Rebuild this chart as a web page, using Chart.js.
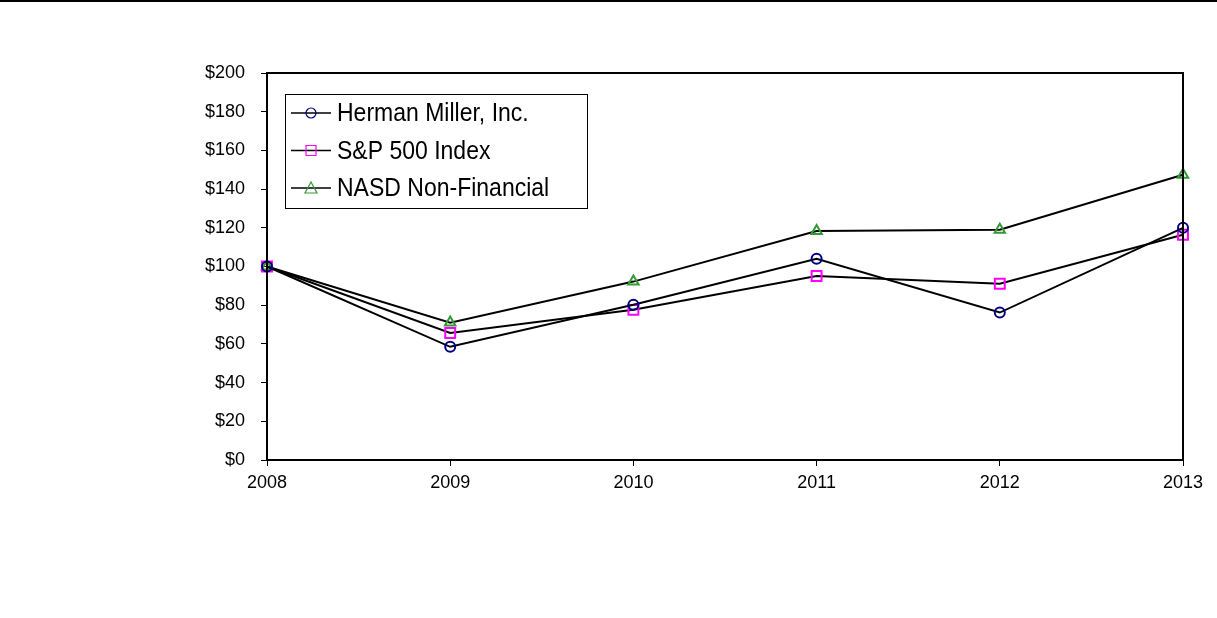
<!DOCTYPE html>
<html lang="en">
  <head>
    <meta charset="utf-8" />
    <title>Cumulative Total Return</title>
    <script src="https://cdn.jsdelivr.net/npm/chart.js@4.4.0/dist/chart.umd.min.js"></script>
    <style>
      html, body { margin: 0; padding: 0; background: #fff; }
      #wrap { width: 1217px; height: 618px; position: relative; }
    </style>
  </head>
  <body>
    <div id="wrap">
      <canvas id="perf_chart" width="1217" height="618"></canvas>
    </div>
    <script>
      const years = ["2008", "2009", "2010", "2011", "2012", "2013"];
      const hermanMiller = [100, 58.5, 80.2, 104, 76.2, 120];
      const sp500 = [100, 65.6, 77.6, 95.1, 91.1, 116.4];
      const nasdNonFin = [100, 71, 92.2, 118.3, 119, 147.4];
      const yTicks = [0, 20, 40, 60, 80, 100, 120, 140, 160, 180, 200];

      const FONT = "'Liberation Sans', Arial, sans-serif";

      // black rule across the top + plot frame + boxed legend
      const framePlugin = {
        id: "frame",
        afterDraw(chart) {
          const ctx = chart.ctx;
          const a = chart.chartArea;
          ctx.save();
          ctx.fillStyle = "#000";
          ctx.fillRect(0, 0, chart.width, 2);
          ctx.strokeStyle = "#000";
          ctx.lineWidth = 2;
          ctx.strokeRect(a.left, a.top, a.right - a.left, a.bottom - a.top);

          // legend box
          const bx = a.left + 18, by = a.top + 21, bw = 302, bh = 114;
          ctx.lineWidth = 1;
          ctx.fillStyle = "#fff";
          ctx.fillRect(bx, by, bw, bh);
          ctx.strokeRect(bx + 0.5, by + 0.5, bw, bh);
          ctx.font = "23px " + FONT;
          ctx.textBaseline = "middle";
          chart.data.datasets.forEach((ds, i) => {
            const y = by + 19 + i * 37.5;
            ctx.strokeStyle = "#000";
            ctx.lineWidth = 1.5;
            ctx.beginPath();
            ctx.moveTo(bx + 6, y);
            ctx.lineTo(bx + 46, y);
            ctx.stroke();
            const cx = bx + 26;
            ctx.strokeStyle = ds.pointBorderColor;
            ctx.lineWidth = 1.2;
            ctx.beginPath();
            if (ds.pointStyle === "circle") {
              ctx.arc(cx, y, 5, 0, Math.PI * 2);
            } else if (ds.pointStyle === "rect") {
              ctx.rect(cx - 5, y - 5, 10, 10);
            } else {
              ctx.moveTo(cx, y - 6);
              ctx.lineTo(cx + 6, y + 5);
              ctx.lineTo(cx - 6, y + 5);
              ctx.closePath();
            }
            ctx.stroke();
            ctx.fillStyle = "#000";
            ctx.save();
            ctx.translate(bx + 52, y);
            ctx.scale(1, 1.12);
            ctx.fillText(ds.label, 0, 1);
            ctx.restore();
          });
          ctx.restore();
        },
      };

      const data = {
        labels: years,
        datasets: [
          {
            label: "Herman Miller, Inc.",
            data: hermanMiller,
            borderColor: "#000",
            borderWidth: 2,
            pointStyle: "circle",
            pointRadius: 5,
            pointBorderWidth: 2,
            pointBorderColor: "#000080",
            pointBackgroundColor: "rgba(0,0,0,0)",
          },
          {
            label: "S&P 500 Index",
            data: sp500,
            borderColor: "#000",
            borderWidth: 2,
            pointStyle: "rect",
            pointRadius: 7,
            pointBorderWidth: 2,
            pointBorderColor: "#ff00ff",
            pointBackgroundColor: "rgba(0,0,0,0)",
          },
          {
            label: "NASD Non-Financial",
            data: nasdNonFin,
            borderColor: "#000",
            borderWidth: 2,
            pointStyle: "triangle",
            pointRadius: 6,
            pointBorderWidth: 2,
            pointBorderColor: "#339933",
            pointBackgroundColor: "rgba(0,0,0,0)",
          },
        ],
      };

      const config = {
        type: "line",
        data: data,
        plugins: [framePlugin],
        options: {
          responsive: false,
          animation: false,
          layout: { padding: { top: 73, right: 34, left: 0, bottom: 0 } },
          plugins: { legend: { display: false }, tooltip: { enabled: false } },
          scales: {
            x: {
              type: "category",
              offset: false,
              grid: { drawOnChartArea: false, drawTicks: true, tickLength: 6, color: "#000" },
              border: { color: "#000", width: 2 },
              ticks: { color: "#000", font: { family: FONT, size: 18 }, padding: 6, maxRotation: 0 },
              afterFit(scale) { scale.height = 158; },
            },
            y: {
              min: 0,
              max: 200,
              afterBuildTicks(scale) { scale.ticks = yTicks.map((v) => ({ value: v })); },
              grid: { drawOnChartArea: false, drawTicks: true, tickLength: 6, color: "#000" },
              border: { color: "#000", width: 2 },
              ticks: {
                color: "#000",
                font: { family: FONT, size: 18 },
                padding: 16,
                callback: (v) => "$" + v,
              },
              afterFit(scale) { scale.width = 267; },
            },
          },
        },
      };

      const perfChart = new Chart(document.getElementById("perf_chart"), config);
    </script>
  </body>
</html>
